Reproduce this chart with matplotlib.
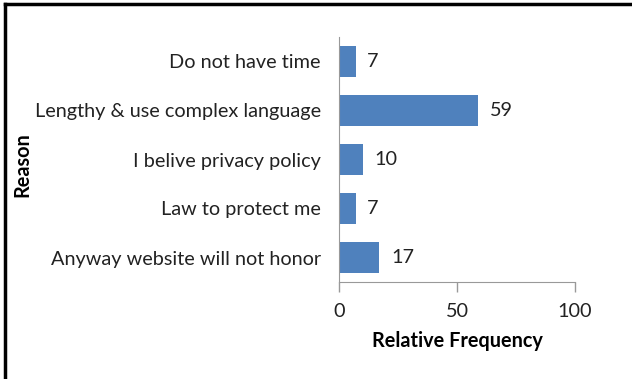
import matplotlib.pyplot as plt
from matplotlib.lines import Line2D

# reasons for not reading privacy policies (top to bottom)
reasons = ["Do not have time", "Lengthy & use complex language",
           "I belive privacy policy", "Law to protect me",
           "Anyway website will not honor"]
freq = [7, 59, 10, 7, 17]

plt.rcParams['font.family'] = ['Lato', 'DejaVu Sans']
fs = 14.3

fig = plt.figure(figsize=(6.32, 3.79), dpi=100)
ax = fig.add_axes([339 / 632, 1 - 282 / 379, 236 / 632, 245 / 379])

pos = list(range(len(reasons)))[::-1]
bars = ax.barh(pos, freq, height=0.63, color='#4F81BD')

for p, v in zip(pos, freq):
    ax.text(v + 5, p, str(v), va='center', ha='left', fontsize=fs, color='#222222')

ax.set_xlim(0, 100)
ax.set_ylim(-0.5, len(reasons) - 0.5)
ax.set_xticks([0, 50, 100])
ax.set_yticks(pos)
ax.set_yticklabels(reasons)
ax.tick_params(axis='y', length=0, pad=13, labelsize=fs, labelcolor='#222222')
ax.tick_params(axis='x', length=7, width=1, color='#999999', pad=8,
               labelsize=fs, labelcolor='#222222')

for s in ['top', 'right']:
    ax.spines[s].set_visible(False)
for s in ['left', 'bottom']:
    ax.spines[s].set_color('#999999')

ax.set_xlabel('Relative Frequency', fontweight='bold', fontsize=fs, labelpad=8)
fig.text(22 / 632, 1 - 165 / 379, 'Reason', rotation=90, fontweight='bold',
         fontsize=fs, ha='center', va='center')

# outer frame (top and left edges)
fig.add_artist(Line2D([5 / 632, 1], [1 - 4 / 379, 1 - 4 / 379], color='black', lw=2.5,
                      transform=fig.transFigure))
fig.add_artist(Line2D([5 / 632, 5 / 632], [0, 1 - 4 / 379], color='black', lw=2.5,
                      transform=fig.transFigure))

fig.savefig('out.png', dpi=100)
